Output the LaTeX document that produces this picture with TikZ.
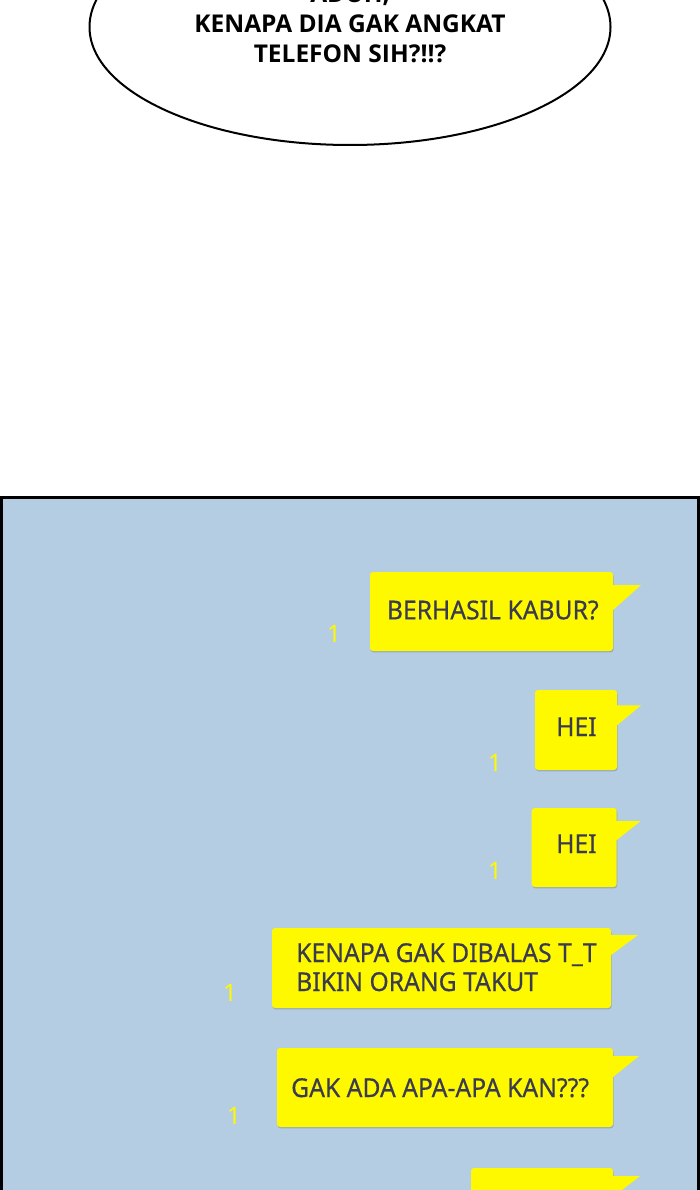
\documentclass[tikz,border=0pt]{standalone}
\usepackage{fontspec}
\usetikzlibrary{shadows}
\newfontfamily\speechfont{Open Sans}
\newfontfamily\chatfont[FakeStretch=0.95,FakeBold=0.4]{Noto Sans}
\newfontfamily\numfont{Noto Sans}
\definecolor{panelblue}{HTML}{B5CDE3}
\definecolor{chatyellow}{HTML}{FFF900}
\definecolor{chattext}{HTML}{3B3B50}
\definecolor{bshadow}{HTML}{93A9BE}
\begin{document}
\begin{tikzpicture}[x=1pt,y=-1pt,
  speech/.style={anchor=base,inner sep=0,font=\speechfont\bfseries\fontsize{24.5}{30}\selectfont,text=black},
  chat/.style={anchor=base west,inner sep=0,font=\chatfont\fontsize{26}{30}\selectfont,text=chattext},
  readmark/.style={anchor=base,inner sep=0,font=\numfont\fontsize{24}{28}\selectfont,text=chatyellow},
  bubble/.style={anchor=north west,fill=chatyellow,rounded corners=3pt,inner sep=0,outer sep=0,
    general shadow={fill=bshadow,shadow xshift=0.6pt,shadow yshift=-1.3pt}},
  tailshape/.style={fill=chatyellow}]
\useasboundingbox (0,0) rectangle (700,1190);
\fill[white] (0,0) rectangle (700,1190);
% speech balloon
\draw[line width=2pt,fill=white] (350,27) ellipse [x radius=260.5,y radius=118];
\node[speech] (s0) at (350,3) {ADUH,};
\node[speech] (s1) at (350,33) {KENAPA DIA GAK ANGKAT};
\node[speech] (s2) at (350,63) {TELEFON SIH?!!?};
% chat panel
\draw[line width=2.6pt,fill=panelblue] (1.3,497.2) rectangle (698.4,1200);
% bubble 1
\node[bubble,minimum width=243,minimum height=79] (b1) at (370,572) {};
\fill[tailshape] (b1.north east) ++(-2,13) -- ++(30,0) -- ++(-28,25) -- ++(-2,0) -- cycle;
\node[chat] (t1) at (386.7,619.3) {BERHASIL KABUR?};
\node[readmark] (r1) at (334,642.5) {1};
% bubble 2
\node[bubble,minimum width=82,minimum height=80] (b2) at (535,690) {};
\fill[tailshape] (b2.north east) ++(-2,15.3) -- ++(26,0) -- ++(-24,20) -- ++(-2,0) -- cycle;
\node[chat] (t2) at (556,736) {HEI};
\node[readmark] (r2) at (495,771.5) {1};
% bubble 3
\node[bubble,minimum width=85,minimum height=79] (b3) at (531.7,808) {};
\fill[tailshape] (b3.north east) ++(-2,13) -- ++(26,0) -- ++(-24,19) -- ++(-2,0) -- cycle;
\node[chat] (t3) at (556,853) {HEI};
\node[readmark] (r3) at (495,879.5) {1};
% bubble 4
\node[bubble,minimum width=339,minimum height=80] (b4) at (272,928) {};
\fill[tailshape] (b4.north east) ++(-2,7) -- ++(29,0) -- ++(-27,20) -- ++(-2,0) -- cycle;
\node[chat] (t4a) at (296,962) {KENAPA GAK DIBALAS T\_T};
\node[chat] (t4b) at (296,991) {BIKIN ORANG TAKUT};
\node[readmark] (r4) at (230,1001.5) {1};
% bubble 5
\node[bubble,minimum width=336,minimum height=79] (b5) at (277,1048) {};
\fill[tailshape] (b5.north east) ++(-2,8) -- ++(28,0) -- ++(-26,21) -- ++(-2,0) -- cycle;
\node[chat] (t5) at (291,1097) {GAK ADA APA-APA KAN???};
\node[readmark] (r5) at (234,1124.5) {1};
% bubble 6 (cut off)
\node[bubble,minimum width=142,minimum height=80] (b6) at (471,1168) {};
\fill[tailshape] (b6.north east) ++(-2,8) -- ++(29,0) -- ++(-27,21) -- ++(-2,0) -- cycle;
\end{tikzpicture}
\end{document}
